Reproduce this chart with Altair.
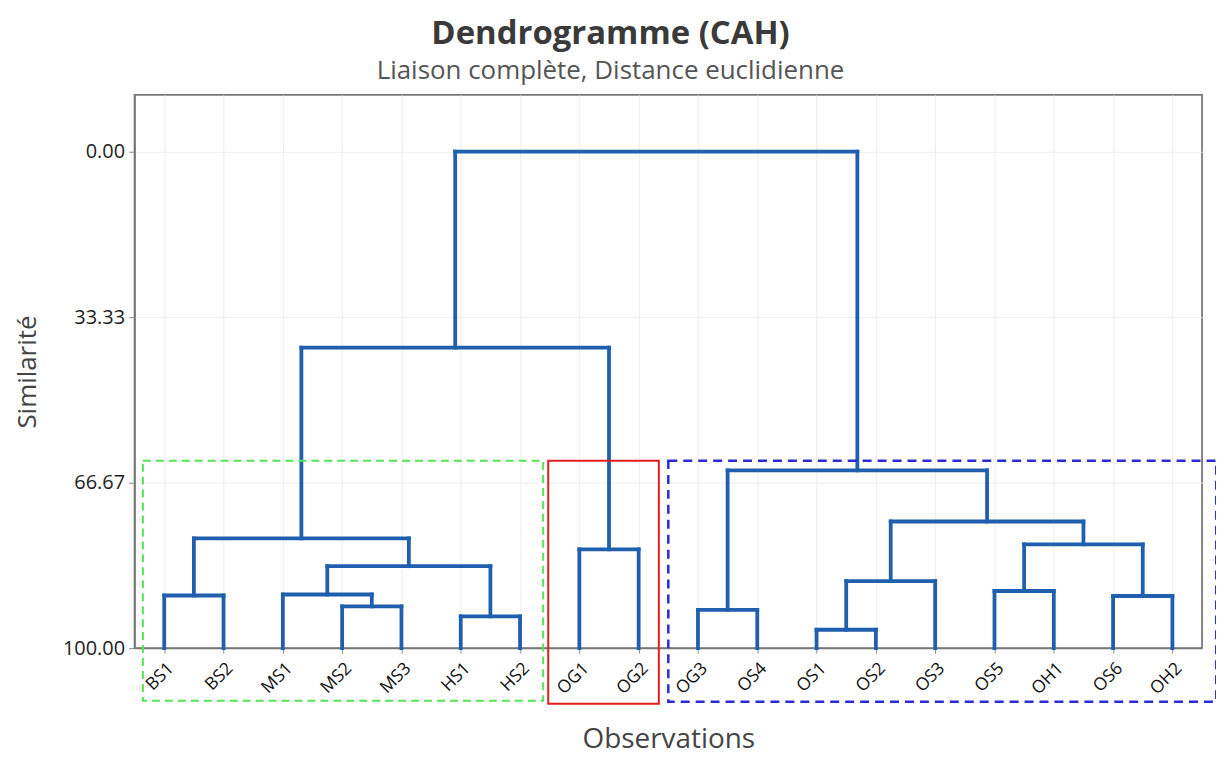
import json
import altair as alt
import pandas as pd

# ---- data ----
leaves = ["BS1", "BS2", "MS1", "MS2", "MS3", "HS1", "HS2", "OG1", "OG2",
          "OG3", "OS4", "OS1", "OS2", "OS3", "OS5", "OH1", "OS6", "OH2"]

# (left child, right child, similarity at merge, node name)
merge_left = ["BS1", "MS2", "MS1", "HS1", "M", "B", "OG1", "BMH", "OG3",
              "OS1", "S12", "OS5", "OS6", "S5H1", "S123", "R1", "L"]
merge_right = ["BS2", "MS3", "M23", "HS2", "H", "MH", "OG2", "OG", "OS4",
               "OS2", "OS3", "OH1", "OH2", "S6H2", "S56", "R2", "R"]
merge_height = [89.4, 91.6, 89.2, 93.6, 83.5, 77.9, 80.1, 39.5, 92.3,
                96.3, 86.5, 88.5, 89.5, 79.1, 74.5, 64.2, 0.0]
merge_name = ["B", "M23", "M", "H", "MH", "BMH", "OG", "L", "R1",
              "S12", "S123", "S5H1", "S6H2", "S56", "R2", "R", "root"]

# group boxes (leaf-index units / similarity units)
box_x = [0.64, 7.475, 9.50]
box_x2 = [7.39, 9.34, 18.74]
box_y = [62.25, 62.25, 62.25]
box_y2 = [110.6, 111.2, 110.8]

y_ticks = [0, 33.33, 66.67, 100]

# ---- build segments ----
pos = {name: (i + 1, 100.0) for i, name in enumerate(leaves)}
segs = []
for l, r, h, n in zip(merge_left, merge_right, merge_height, merge_name):
    xl, hl = pos[l]
    xr, hr = pos[r]
    segs.append({"x": xl, "x2": xl, "y": hl, "y2": h})
    segs.append({"x": xr, "x2": xr, "y": hr, "y2": h})
    segs.append({"x": xl, "x2": xr, "y": h, "y2": h})
    pos[n] = ((xl + xr) / 2, h)
seg_df = pd.DataFrame(segs)

FONT = "Open Sans"
label_expr = json.dumps(leaves) + "[datum.value - 1]"

xs = alt.Scale(domain=[0.5, 18.5], nice=False, zero=False)
ys = alt.Scale(domain=[-11.4, 100], nice=False, zero=False, reverse=True)

x_enc = alt.X("x:Q", scale=xs, axis=alt.Axis(
    values=list(range(1, len(leaves) + 1)), labelExpr=label_expr,
    labelAngle=-45, labelFontSize=17.5, labelFont=FONT, labelColor="#111",
    labelPadding=6, tickSize=5, tickColor="#888",
    domain=True, domainColor="#777", domainWidth=1.5,
    grid=True, gridColor="#eeeeee", title="Observations",
    titleFontSize=28, titleFont=FONT, titleFontWeight="normal",
    titleColor="#444", titleY=100, titleBaseline="alphabetic"))
y_enc = alt.Y("y:Q", scale=ys, axis=alt.Axis(
    values=y_ticks, format=".2f", labelFontSize=20, labelFont=FONT,
    labelColor="#222", labelPadding=4, tickSize=6, tickColor="#888",
    domain=True, domainColor="#777", domainWidth=1.5,
    grid=True, gridColor="#eeeeee", title="Similarité",
    titleFontSize=26, titleFont=FONT, titleFontWeight="normal",
    titleColor="#444", titlePadding=22))

tree = alt.Chart(seg_df).mark_rule(
    color="#1f5fae", strokeWidth=3.8, strokeCap="square"
).encode(x=x_enc, x2="x2:Q", y=y_enc, y2="y2:Q")

box_colors = ["#55e455", "#e21f1f", "#2b2bd6"]
box_dash = [[8, 5], [1, 0], [9, 6]]
box_width = [2, 2, 2.5]
layers = [tree]
for i in range(3):
    d = pd.DataFrame({"x": [box_x[i]], "x2": [box_x2[i]],
                      "y": [box_y[i]], "y2": [box_y2[i]]})
    layers.append(alt.Chart(d).mark_rect(
        fillOpacity=0, stroke=box_colors[i], strokeWidth=box_width[i],
        strokeDash=box_dash[i]
    ).encode(x=alt.X("x:Q", scale=xs), x2="x2:Q",
             y=alt.Y("y:Q", scale=ys), y2="y2:Q"))

chart = alt.layer(*layers).properties(
    width=1071, height=555,
    background="white",
    autosize=alt.AutoSizeParams(type="none"),
    padding={"left": 127, "top": 86, "right": 14, "bottom": 108},
    title=alt.TitleParams(
        text="Dendrogramme (CAH)",
        subtitle="Liaison complète, Distance euclidienne",
        font=FONT, fontSize=33, fontWeight="bold", color="#3a3a3a",
        subtitleFont=FONT, subtitleFontSize=26, subtitleColor="#555",
        anchor="middle", dx=-58, offset=11, subtitlePadding=7),
).configure_view(stroke="#7a7a7a", strokeWidth=1.8)

chart.save("out.html", embed_options={"renderer": "svg", "actions": False})
